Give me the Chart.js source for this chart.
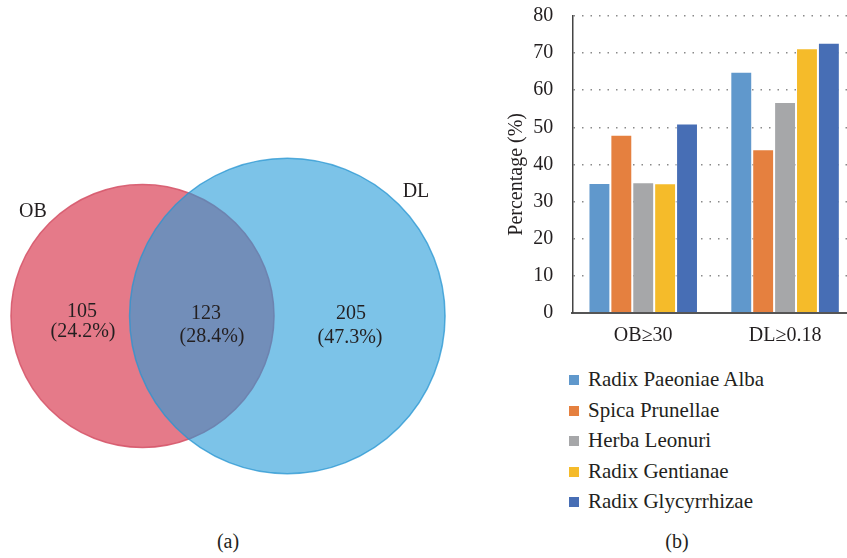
<!DOCTYPE html>
<html>
<head>
<meta charset="utf-8">
<script src="https://cdn.jsdelivr.net/npm/chart.js@4.4.0/dist/chart.umd.min.js"></script>
<style>
  html, body { margin: 0; padding: 0; background: #fff; }
  #page { position: relative; width: 847px; height: 558px; overflow: hidden; font-family: 'Liberation Serif', serif; color: #231f20; }
  #venn { position: absolute; left: 0; top: 140px; }
  #bars { position: absolute; left: 480px; top: 0; }
  #legend { position: absolute; left: 569px; top: 364px; font-size: 21px; }
  #legend div { height: 30.5px; line-height: 30.5px; white-space: nowrap; }
  #legend span { display: inline-block; width: 10px; height: 10px; margin-right: 9px; vertical-align: 1px; }
  .cap { position: absolute; top: 530px; font-size: 20px; width: 40px; text-align: center; }
</style>
</head>
<body>
<div id="page">
  <canvas id="venn" width="480" height="360"></canvas>
  <canvas id="bars" width="390" height="360"></canvas>
  <div id="legend"></div>
  <div class="cap" style="left:208px">(a)</div>
  <div class="cap" style="left:657px">(b)</div>
</div>
<script>
// DATOS - VENN
var setNames = ['OB', 'DL'];
var onlyCounts = [105, 205];   // solo OB, solo DL
var sharedCount = 123;         // ambos

// DATOS - BARRAS
var groups = ['OB\u226530', 'DL\u22650.18'];
var herbs = ['Radix Paeoniae Alba', 'Spica Prunellae', 'Herba Leonuri', 'Radix Gentianae', 'Radix Glycyrrhizae'];
var paeoniae = [35, 65];
var prunellae = [48, 44.1];
var leonuri = [35.2, 56.8];
var gentianae = [34.9, 71.3];
var glycyrrhizae = [51, 72.8];
var yTicks = [0, 10, 20, 30, 40, 50, 60, 70, 80];

var serif = "'Liberation Serif', serif";
var textColor = '#231f20';

// GRAFICO 1 - VENN
var total = onlyCounts[0] + onlyCounts[1] + sharedCount;
var setTotals = [onlyCounts[0] + sharedCount, onlyCounts[1] + sharedCount];
var radiusScale = 8.71; // px por raiz de elemento
var vennRadius = setTotals.map(function (n) { return Math.sqrt(n) * radiusScale; });

// posiciones de los circulos y textos (px del canvas)
var vennCenters = [[142.5, 176], [287.3, 176]];
var regionPos = [[82, 172], [206, 174], [351, 174]];
var namePos = [[33, 72], [416, 52]];

function pct(n) { return '(' + (n / total * 100).toFixed(1) + '%)'; }

var vennLabels = {
    id: 'vennLabels',
    afterDatasetsDraw: function (chart) {
        var ctx = chart.ctx;
        var xs = chart.scales.x, ys = chart.scales.y;
        var counts = [onlyCounts[0], sharedCount, onlyCounts[1]];
        var offsets = [[1, 20], [6, 23], [-1, 24]];
        ctx.save();
        ctx.fillStyle = textColor;
        ctx.font = '20px ' + serif;
        ctx.textAlign = 'center';
        ctx.textBaseline = 'middle';
        counts.forEach(function (c, i) {
            var px = xs.getPixelForValue(regionPos[i][0]);
            var py = ys.getPixelForValue(regionPos[i][1]);
            ctx.fillText(String(c), px, py);
            ctx.fillText(pct(c), px + offsets[i][0], py + offsets[i][1]);
        });
        setNames.forEach(function (name, i) {
            ctx.fillText(name, xs.getPixelForValue(namePos[i][0]), ys.getPixelForValue(namePos[i][1]));
        });
        ctx.restore();
    }
};

var venn_ctx = document.getElementById('venn').getContext('2d');
var venn_chart = new Chart(venn_ctx, {
    type: 'bubble',
    data: {
        labels: setNames,
        datasets: [{
            data: setNames.map(function (name, i) {
                return { x: vennCenters[i][0], y: vennCenters[i][1], r: vennRadius[i] };
            }),
            backgroundColor: ['rgb(229,122,137)', 'rgba(37,155,217,0.6)'],
            borderColor: ['rgba(214,88,108,0.9)', 'rgba(40,150,210,0.75)'],
            borderWidth: 1.5,
            clip: false
        }]
    },
    options: {
        responsive: false,
        animation: false,
        layout: { padding: 0, autoPadding: false },
        plugins: { legend: { display: false }, tooltip: { enabled: false } },
        scales: {
            x: { type: 'linear', min: 0, max: 480, display: false },
            y: { type: 'linear', min: 0, max: 360, reverse: true, display: false }
        }
    },
    plugins: [vennLabels]
});

// GRAFICO 2 - PORCENTAJES
var herbColors = ['#6098cc', '#e5803f', '#a6a7a9', '#f5bb2a', '#476eb5'];
var herbValues = [paeoniae, prunellae, leonuri, gentianae, glycyrrhizae];

var bar_data = {
    labels: groups,
    datasets: herbs.map(function (h, i) {
        return {
            label: h,
            data: herbValues[i],
            backgroundColor: herbColors[i],
            borderColor: 'rgba(255,255,255,0.55)',
            borderWidth: 1,
            categoryPercentage: 0.772,
            barPercentage: 1.0
        };
    })
};

var bar_options = {
    responsive: false,
    animation: false,
    layout: { padding: { top: 0, right: 14, left: 0, bottom: 0 } },
    plugins: { legend: { display: false }, tooltip: { enabled: false } },
    scales: {
        x: {
            grid: { display: false, drawTicks: false },
            border: { display: true, color: '#555', width: 2 },
            ticks: { color: textColor, font: { family: serif, size: 20 }, padding: 11 },
            afterFit: function (s) { s.height = 47.3; }
        },
        y: {
            min: 0,
            max: 80,
            afterBuildTicks: function (s) { s.ticks = yTicks.map(function (v) { return { value: v }; }); },
            // marcas invisibles para separar las etiquetas del eje
            grid: { color: '#8a8a8a', lineWidth: 1.5, drawTicks: true, tickLength: 15, tickColor: 'rgba(0,0,0,0)', borderDash: [1.5, 7] },
            border: { display: true, color: '#444', width: 1.5, dash: [1.5, 7] },
            ticks: { color: textColor, font: { family: serif, size: 20 }, padding: 4 },
            title: {
                display: true,
                // espacios al final para bajar un poco el titulo
                text: 'Percentage (%)\u00a0\u00a0\u00a0\u00a0',
                color: textColor,
                font: { family: serif, size: 20 },
                padding: { top: 25, bottom: 0 }
            },
            afterFit: function (s) { s.width = 92.3; }
        }
    }
};

var bar_ctx = document.getElementById('bars').getContext('2d');
var bar_chart = new Chart(bar_ctx, {
    type: 'bar',
    data: bar_data,
    options: bar_options
});

// Leyenda vertical
var legendBox = document.getElementById('legend');
bar_chart.data.datasets.forEach(function (ds) {
    var row = document.createElement('div');
    var sw = document.createElement('span');
    sw.style.background = ds.backgroundColor;
    row.appendChild(sw);
    row.appendChild(document.createTextNode(ds.label));
    legendBox.appendChild(row);
});
</script>
</body>
</html>
